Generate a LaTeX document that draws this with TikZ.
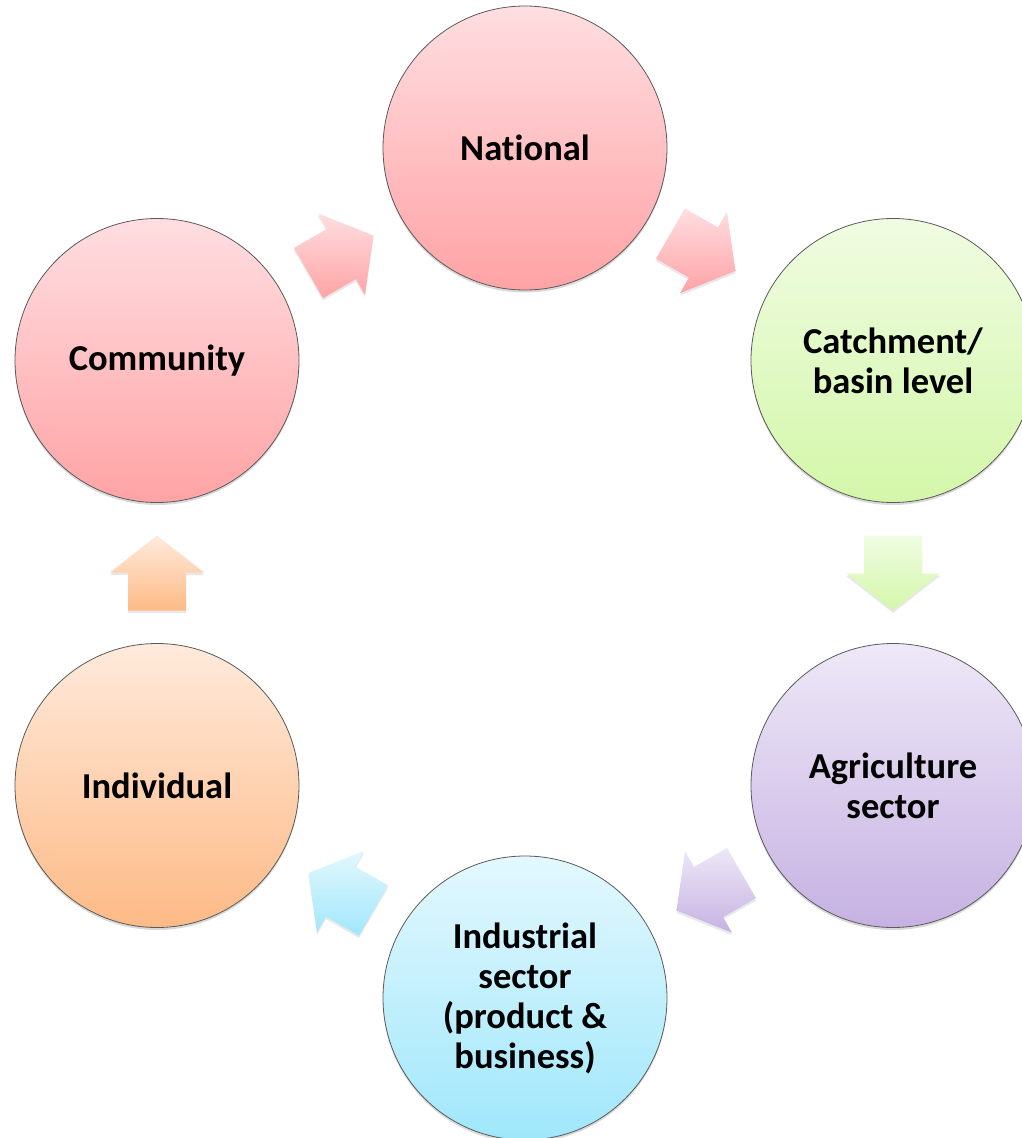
\documentclass[tikz,border=0pt]{standalone}
\usepackage{fontspec}
\setmainfont{Carlito}[Ligatures=NoCommon]
\usetikzlibrary{shadows,calc}
\definecolor{pinkT}{HTML}{FFDEE1}
\definecolor{pinkB}{HTML}{FFA3A5}
\definecolor{greenT}{HTML}{F0FCE2}
\definecolor{greenB}{HTML}{D3F7A9}
\definecolor{purpT}{HTML}{EEE8F7}
\definecolor{purpB}{HTML}{C6B2E2}
\definecolor{blueT}{HTML}{E3F8FE}
\definecolor{blueB}{HTML}{A0E7FB}
\definecolor{oranT}{HTML}{FFEADC}
\definecolor{oranB}{HTML}{FDBA86}
\definecolor{rimgray}{HTML}{5A5A5A}
\tikzset{
  stage/.style={circle, minimum size=284pt, inner sep=0pt, draw=rimgray, line width=0.8pt,
    align=center, font=\fontsize{36.5}{40}\selectfont\bfseries,
    drop shadow={opacity=0.3, shadow xshift=0pt, shadow yshift=-2.5pt}},
  arrowfill/.style={draw=none, drop shadow={opacity=0.18, shadow xshift=0pt, shadow yshift=-2.5pt}},
  pics/blockarrow/.style n args={2}{code={
    \path[arrowfill, top color=#1, bottom color=#2]
      (-37.5,-29) -- (0.5,-29) -- (0.5,-47) -- (37.5,0) -- (0.5,47) -- (0.5,29) -- (-37.5,29) -- cycle;
  }}
}
\begin{document}
\begin{tikzpicture}[x=1pt,y=-1pt]
\useasboundingbox (0,0) rectangle (1021,1138);
\node[stage, top color=pinkT, bottom color=pinkB] (nat) at (525,148) {National};
\node[stage, top color=greenT, bottom color=greenB] (cat) at (893,360.5) {Catchment/\\basin level};
\node[stage, top color=purpT, bottom color=purpB] (agr) at (893,785.5) {Agriculture\\sector};
\node[stage, top color=blueT, bottom color=blueB] (ind) at (525,998) {Industrial\\sector\\(product \&\\business)};
\node[stage, top color=oranT, bottom color=oranB] (idv) at (157,785.5) {Individual};
\node[stage, top color=pinkT, bottom color=pinkB] (com) at (157,360.5) {Community};

\pic[rotate=30]  at ($(com)!0.5!(nat)$) {blockarrow={pinkT}{pinkB}};
\pic[rotate=-30] at ($(nat)!0.5!(cat)+(-6,-2)$) {blockarrow={pinkT}{pinkB}};
\pic[rotate=-90] at ($(cat)!0.5!(agr)$) {blockarrow={greenT}{greenB}};
\pic[rotate=-150] at ($(agr)!0.5!(ind)$) {blockarrow={purpT}{purpB}};
\pic[rotate=150] at ($(ind)!0.5!(idv)$) {blockarrow={blueT}{blueB}};
\pic[rotate=90]  at ($(idv)!0.5!(com)$) {blockarrow={oranT}{oranB}};
\end{tikzpicture}
\end{document}
